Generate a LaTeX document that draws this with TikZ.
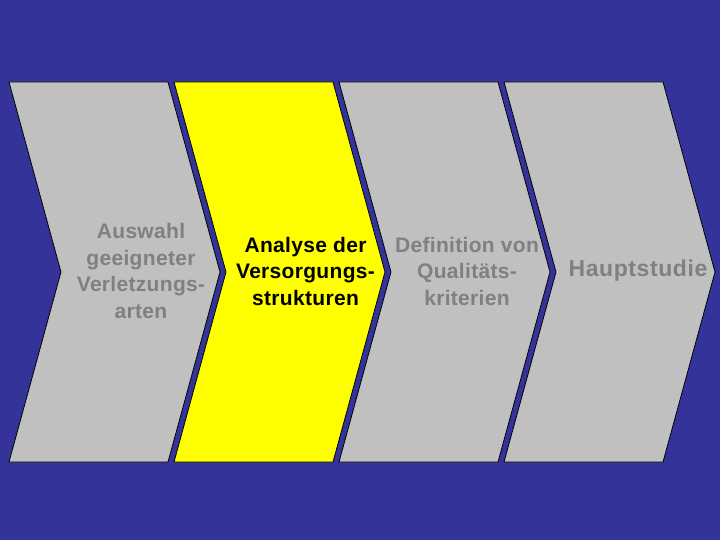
\documentclass[tikz,border=0pt]{standalone}
\usepackage{fontspec}
\newfontfamily\stepfont{Liberation Sans}[LetterSpace=1.5]
\newfontfamily\mainstepfont{Liberation Sans}[LetterSpace=2.5]
\definecolor{bgblue}{HTML}{333399}
\definecolor{stepgray}{HTML}{C0C0C0}
\definecolor{stepyellow}{HTML}{FFFF00}
\definecolor{labelgray}{HTML}{808080}

\begin{document}
\begin{tikzpicture}[x=1pt,y=-1pt]

      \fill[bgblue] (0,0) rectangle (720,540);

      % process steps
      \foreach \x/\c in {9/stepgray,174/stepyellow,339/stepgray,504/stepgray}
        \filldraw[draw=black,line width=0.8pt,fill=\c]
          (\x,82) -- ++(159,0) -- ++(52,190) -- ++(-52,190)
          -- ++(-159,0) -- ++(52,-190) -- cycle;

      \begin{scope}[every node/.style={align=center,text=labelgray,
          font=\stepfont\bfseries\fontsize{21}{26.5}\selectfont}]
        \node (auswahl)    at (141,271) {Auswahl\\geeigneter\\Verletzungs-\\arten};
        \node[text=black] (analyse) at (305.5,271) {Analyse der\\Versorgungs-\\strukturen};
        \node (definition) at (467,271) {Definition von\\Qualitäts-\\kriterien};
        \node[font=\mainstepfont\bfseries\fontsize{23}{26}\selectfont]
          (haupt) at (638,271) {Hauptstudie};
      \end{scope}

    \end{tikzpicture}
\end{document}
